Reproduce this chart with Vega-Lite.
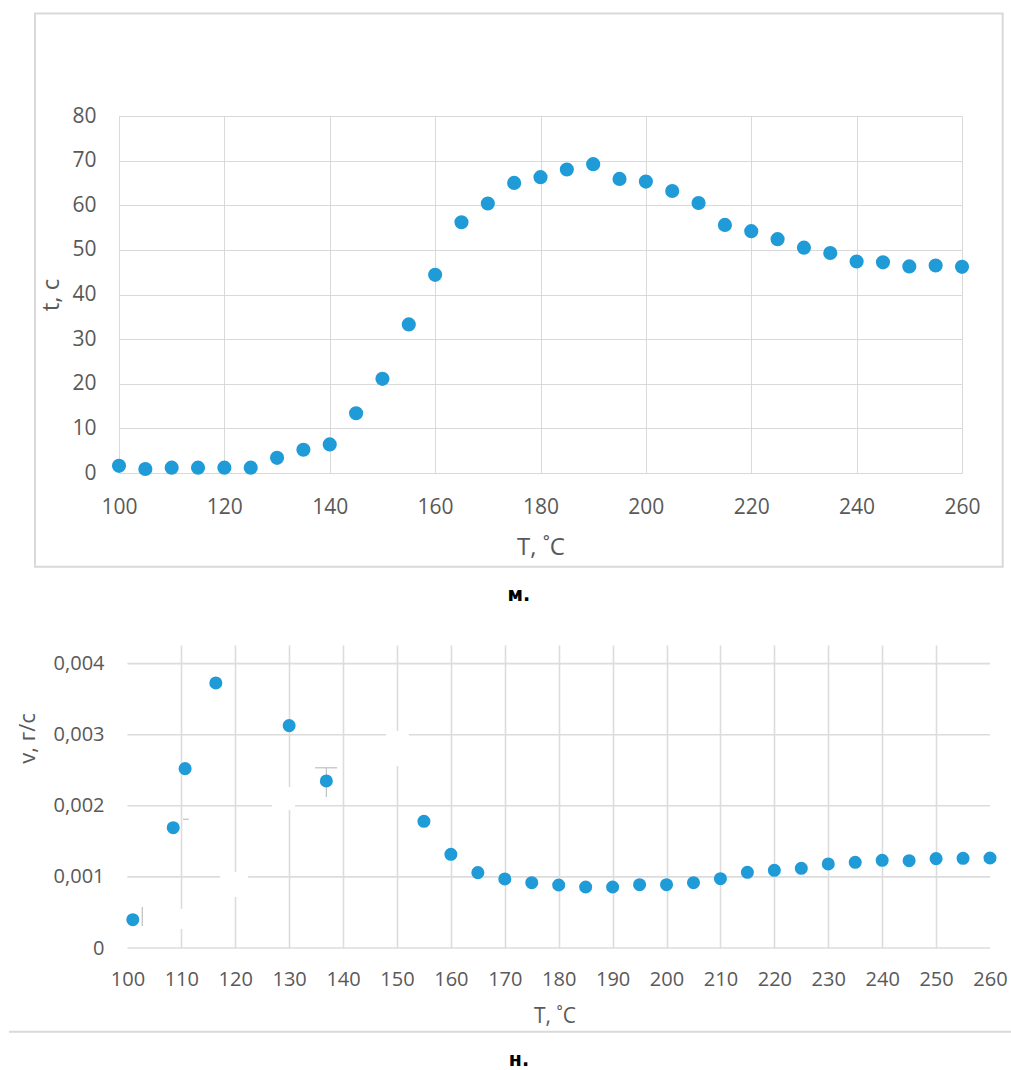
{
  "$schema": "https://vega.github.io/schema/vega-lite/v6.json",
  "background": "white",
  "padding": {"left": 8, "top": 12, "right": 0, "bottom": 0},
  "spacing": 40,
  "config": {
    "font": "Open Sans",
    "view": {"stroke": null},
    "axis": {
      "domain": false,
      "ticks": false,
      "tickSize": 0,
      "labelColor": "#595959",
      "titleColor": "#595959",
      "titleFontWeight": "normal",
      "labelOverlap": false,
      "labelFlush": false
    }
  },
  "datasets": {
    "duration": [
      {"T": 100, "t": 1.6}, {"T": 105, "t": 0.9}, {"T": 110, "t": 1.2}, {"T": 115, "t": 1.2},
      {"T": 120, "t": 1.2}, {"T": 125, "t": 1.2}, {"T": 130, "t": 3.4}, {"T": 135, "t": 5.2},
      {"T": 140, "t": 6.4}, {"T": 145, "t": 13.4}, {"T": 150, "t": 21.1}, {"T": 155, "t": 33.3},
      {"T": 160, "t": 44.4}, {"T": 165, "t": 56.2}, {"T": 170, "t": 60.4}, {"T": 175, "t": 65.0},
      {"T": 180, "t": 66.3}, {"T": 185, "t": 68.0}, {"T": 190, "t": 69.2}, {"T": 195, "t": 65.9},
      {"T": 200, "t": 65.3}, {"T": 205, "t": 63.2}, {"T": 210, "t": 60.5}, {"T": 215, "t": 55.6},
      {"T": 220, "t": 54.2}, {"T": 225, "t": 52.4}, {"T": 230, "t": 50.5}, {"T": 235, "t": 49.3},
      {"T": 240, "t": 47.4}, {"T": 245, "t": 47.2}, {"T": 250, "t": 46.3}, {"T": 255, "t": 46.5},
      {"T": 260, "t": 46.2}
    ],
    "rate": [
      {"T": 101, "v": 0.000398}, {"T": 108.5, "v": 0.001692}, {"T": 110.7, "v": 0.002523},
      {"T": 116.4, "v": 0.003728}, {"T": 130, "v": 0.003128}, {"T": 136.9, "v": 0.00235},
      {"T": 155, "v": 0.001782}, {"T": 160, "v": 0.001318}, {"T": 165, "v": 0.00106},
      {"T": 170, "v": 0.000971}, {"T": 175, "v": 0.000919}, {"T": 180, "v": 0.000886},
      {"T": 185, "v": 0.000858}, {"T": 190, "v": 0.000858}, {"T": 195, "v": 0.000891},
      {"T": 200, "v": 0.000891}, {"T": 205, "v": 0.000919}, {"T": 210, "v": 0.000975},
      {"T": 215, "v": 0.001065}, {"T": 220, "v": 0.001093}, {"T": 225, "v": 0.001121},
      {"T": 230, "v": 0.001182}, {"T": 235, "v": 0.001205}, {"T": 240, "v": 0.001234},
      {"T": 245, "v": 0.001228}, {"T": 250, "v": 0.001257}, {"T": 255, "v": 0.001262},
      {"T": 260, "v": 0.001266}
    ],
    "rateGrid": [{"g": 0}, {"g": 0.001}, {"g": 0.002}, {"g": 0.003}, {"g": 0.004}],
    "labelBoxes": [
      {"T0": 117.2, "T1": 122.4, "v0": 0.000718, "v1": 0.001069},
      {"T0": 126.8, "T1": 131.1, "v0": 0.001942, "v1": 0.002265},
      {"T0": 148.0, "T1": 152.2, "v0": 0.00256, "v1": 0.003053},
      {"T0": 107.9, "T1": 112.5, "v0": 0.000267, "v1": 0.000549}
    ],
    "errorBits": [
      {"x0": 136.9, "x1": 136.9, "y0": 0.002123, "y1": 0.002535},
      {"x0": 134.8, "x1": 138.9, "y0": 0.002535, "y1": 0.002535},
      {"x0": 102.76, "x1": 102.76, "y0": 0.00031, "y1": 0.000577},
      {"x0": 110.3, "x1": 111.4, "y0": 0.001811, "y1": 0.001811}
    ]
  },
  "vconcat": [
    {
      "width": 843,
      "height": 357,
      "title": {
        "text": "м.",
        "orient": "bottom",
        "anchor": "middle",
        "frame": "bounds",
        "font": "DejaVu Sans",
        "fontSize": 19,
        "fontWeight": "bold",
        "color": "black",
        "offset": 18
      },
      "layer": [
        {
          "data": {"values": [{}]},
          "mark": {"type": "rect", "fillOpacity": 0, "stroke": "#d9d9d9", "strokeWidth": 2},
          "encoding": {
            "x": {"datum": 84.06, "type": "quantitative", "title": "T, ˚C"},
            "x2": {"datum": 267.72},
            "y": {"datum": 102.97, "type": "quantitative", "title": "t, c"},
            "y2": {"datum": -21.0}
          }
        },
        {
          "data": {"name": "duration"},
          "mark": {"type": "circle", "size": 200, "opacity": 1, "color": "#1f9bd7"},
          "encoding": {
            "x": {
              "field": "T",
              "type": "quantitative",
              "title": "T, ˚C",
              "scale": {"domain": [100, 260], "nice": false, "zero": false},
              "axis": {
                "values": [100, 120, 140, 160, 180, 200, 220, 240, 260],
                "grid": true,
                "gridColor": "#d9d9d9",
                "gridWidth": 1,
                "labelFontSize": 21,
                "labelPadding": 23,
                "titleFontSize": 24,
                "titlePadding": 18
              }
            },
            "y": {
              "field": "t",
              "type": "quantitative",
              "title": "t, c",
              "scale": {"domain": [0, 80], "nice": false},
              "axis": {
                "values": [0, 10, 20, 30, 40, 50, 60, 70, 80],
                "grid": true,
                "gridColor": "#d9d9d9",
                "gridWidth": 1,
                "labelFontSize": 21,
                "labelPadding": 23,
                "titleFontSize": 24,
                "titlePadding": 8
              }
            }
          }
        }
      ]
    },
    {
      "width": 871,
      "height": 303,
      "title": {
        "text": "н.",
        "orient": "bottom",
        "anchor": "middle",
        "frame": "bounds",
        "font": "DejaVu Sans",
        "fontSize": 19,
        "fontWeight": "bold",
        "color": "black",
        "offset": 18,
        "dx": 9
      },
      "layer": [
        {
          "data": {"name": "rateGrid"},
          "mark": {"type": "rule", "color": "#dcdcdc", "strokeWidth": 1.6},
          "encoding": {
            "x": {"datum": 100, "type": "quantitative", "title": "T, ˚C"},
            "x2": {"datum": 260},
            "y": {"field": "g", "type": "quantitative", "title": "v, г/с"}
          }
        },
        {
          "data": {"values": [{}]},
          "mark": {"type": "rule", "color": "#d9d9d9", "strokeWidth": 2},
          "encoding": {
            "x": {"datum": 78.04, "type": "quantitative", "title": "T, ˚C"},
            "x2": {"datum": 263.9},
            "y": {"datum": -0.0011776, "type": "quantitative", "title": "v, г/с"}
          }
        },
        {
          "data": {"name": "labelBoxes"},
          "mark": {"type": "rect", "color": "white"},
          "encoding": {
            "x": {"field": "T0", "type": "quantitative", "title": "T, ˚C"},
            "x2": {"field": "T1"},
            "y": {"field": "v0", "type": "quantitative", "title": "v, г/с"},
            "y2": {"field": "v1"}
          }
        },
        {
          "data": {"name": "errorBits"},
          "mark": {"type": "rule", "color": "#c4c4c4", "strokeWidth": 1.3},
          "encoding": {
            "x": {"field": "x0", "type": "quantitative", "title": "T, ˚C"},
            "x2": {"field": "x1"},
            "y": {"field": "y0", "type": "quantitative", "title": "v, г/с"},
            "y2": {"field": "y1"}
          }
        },
        {
          "data": {"name": "rate"},
          "mark": {"type": "circle", "size": 170, "opacity": 1, "color": "#1f9bd7"},
          "encoding": {
            "x": {
              "field": "T",
              "type": "quantitative",
              "title": "T, ˚C",
              "scale": {"domain": [98.44, 260], "nice": false, "zero": false},
              "axis": {
                "values": [100, 110, 120, 130, 140, 150, 160, 170, 180, 190, 200, 210, 220, 230, 240, 250, 260],
                "grid": true,
                "gridColor": "#dcdcdc",
                "gridWidth": 1.6,
                "gridOpacity": {"condition": {"test": "datum.value < 105 || datum.value > 255", "value": 0}, "value": 1},
                "labelFontSize": 20,
                "labelPadding": 21,
                "titleFontSize": 21,
                "titlePadding": 16
              }
            },
            "y": {
              "field": "v",
              "type": "quantitative",
              "title": "v, г/с",
              "scale": {"domain": [0, 0.004262], "nice": false},
              "axis": {
                "values": [0, 0.001, 0.002, 0.003, 0.004],
                "grid": false,
                "labelExpr": "datum.value == 0 ? '0' : replace(format(datum.value, '.3f'), '.', ',')",
                "labelFontSize": 20,
                "labelPadding": 15,
                "titleFontSize": 22,
                "titlePadding": 14,
                "titleY": 93
              }
            }
          }
        }
      ]
    }
  ]
}
